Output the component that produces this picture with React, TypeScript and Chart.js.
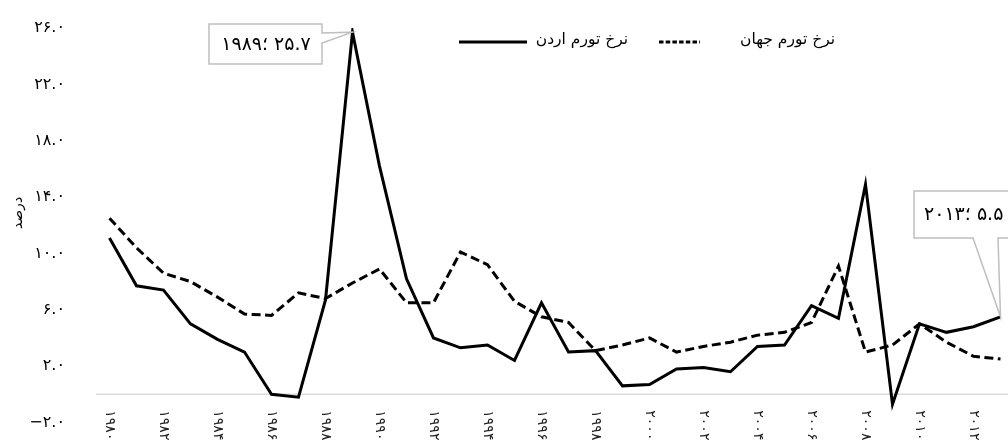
import React, { useEffect, useRef } from "react";
import { Chart, registerables } from "chart.js";

Chart.register(...registerables);

const years = [
  1980, 1981, 1982, 1983, 1984, 1985, 1986, 1987, 1988, 1989, 1990, 1991,
  1992, 1993, 1994, 1995, 1996, 1997, 1998, 1999, 2000, 2001, 2002, 2003,
  2004, 2005, 2006, 2007, 2008, 2009, 2010, 2011, 2012, 2013,
];
const jordan = [
  11.1, 7.7, 7.4, 5.0, 3.9, 3.0, 0.0, -0.2, 6.7, 25.7, 16.2, 8.2, 4.0, 3.3,
  3.5, 2.4, 6.5, 3.0, 3.1, 0.6, 0.7, 1.8, 1.9, 1.6, 3.4, 3.5, 6.3, 5.4, 14.9,
  -0.7, 5.0, 4.4, 4.8, 5.5,
];
const world = [
  12.5, 10.4, 8.6, 8.0, 6.9, 5.7, 5.6, 7.2, 6.8, 7.9, 8.9, 6.5, 6.5, 10.1,
  9.2, 6.6, 5.5, 5.1, 3.1, 3.5, 4.0, 3.0, 3.4, 3.7, 4.2, 4.4, 5.1, 9.1, 3.0,
  3.5, 5.0, 3.7, 2.7, 2.5,
];
const seriesNames = ["نرخ تورم اردن", "نرخ تورم جهان"];
const yTitle = "درصد";
const yMin = -2;
const yMax = 26;
const yStep = 4;

const FA = "۰۱۲۳۴۵۶۷۸۹";
const toFa = (s: string) => s.replace(/[0-9]/g, (d) => FA[+d]);
const FONT = "'DejaVu Sans', sans-serif";

function drawPieces(ctx: any, pieces: string[], x: number, y: number, align: string) {
  ctx.direction = "ltr";
  ctx.textAlign = "left";
  const widths = pieces.map((p) => ctx.measureText(p).width);
  const total = widths.reduce((a, b) => a + b, 0);
  let cx = align === "center" ? x - total / 2 : x;
  pieces.forEach((p, i) => {
    ctx.fillText(p, cx, y);
    cx += widths[i];
  });
}

const overlay = {
  id: "overlay",
  beforeDatasetsDraw(chart: any) {
    const { ctx, chartArea } = chart;
    const ys = chart.scales.y;
    const y0 = ys.getPixelForValue(0);
    ctx.save();
    ctx.strokeStyle = "#d9d9d9";
    ctx.lineWidth = 1.5;
    ctx.beginPath();
    ctx.moveTo(chartArea.left, y0);
    ctx.lineTo(chartArea.right, y0);
    ctx.stroke();
    ctx.restore();
  },
  afterDraw(chart: any) {
    const { ctx } = chart;
    const xs = chart.scales.x;
    const ys = chart.scales.y;
    const y0 = ys.getPixelForValue(0);
    ctx.save();
    // x labels rotated clockwise
    ctx.fillStyle = "#222";
    ctx.font = `14px ${FONT}`;
    ctx.direction = "ltr";
    ctx.textAlign = "left";
    ctx.textBaseline = "middle";
    years.forEach((yr, i) => {
      if (i % 2 !== 0) return;
      const x = xs.getPixelForValue(i);
      ctx.save();
      ctx.translate(x, y0 + 16);
      ctx.rotate(Math.PI / 2);
      ctx.fillText(toFa(String(yr)), 0, 0);
      ctx.restore();
    });

    // y title
    ctx.save();
    ctx.fillStyle = "#000";
    ctx.font = `14px ${FONT}`;
    ctx.direction = "rtl";
    ctx.textAlign = "center";
    ctx.textBaseline = "middle";
    ctx.translate(18, 213);
    ctx.rotate(-Math.PI / 2);
    ctx.fillText(yTitle, 0, 0);
    ctx.restore();

    // legend
    ctx.strokeStyle = "#000";
    ctx.lineWidth = 3;
    ctx.setLineDash([]);
    ctx.beginPath();
    ctx.moveTo(459, 42);
    ctx.lineTo(527, 42);
    ctx.stroke();
    ctx.setLineDash([4.5, 2.2]);
    ctx.beginPath();
    ctx.moveTo(659, 42);
    ctx.lineTo(700, 42);
    ctx.stroke();
    ctx.setLineDash([]);
    ctx.fillStyle = "#000";
    ctx.font = `15.5px ${FONT}`;
    ctx.direction = "rtl";
    ctx.textAlign = "right";
    ctx.textBaseline = "middle";
    ctx.fillText(seriesNames[0], 628, 40);
    ctx.fillText(seriesNames[1], 835, 40);

    // callouts
    const peakIdx = jordan.indexOf(Math.max(...jordan));
    const lastIdx = jordan.length - 1;
    const t1x = xs.getPixelForValue(peakIdx);
    const t1y = ys.getPixelForValue(jordan[peakIdx]);
    const t2x = xs.getPixelForValue(lastIdx);
    const t2y = ys.getPixelForValue(jordan[lastIdx]);
    ctx.strokeStyle = "#bfbfbf";
    ctx.lineWidth = 1.5;
    ctx.fillStyle = "#fff";
    ctx.beginPath();
    ctx.moveTo(209, 24);
    ctx.lineTo(322, 24);
    ctx.lineTo(322, 33);
    ctx.lineTo(t1x, t1y);
    ctx.lineTo(322, 43);
    ctx.lineTo(322, 64);
    ctx.lineTo(209, 64);
    ctx.closePath();
    ctx.fill();
    ctx.stroke();

    ctx.beginPath();
    ctx.moveTo(914, 191);
    ctx.lineTo(1045, 191);
    ctx.lineTo(1045, 238);
    ctx.lineTo(998, 238);
    ctx.lineTo(t2x, t2y);
    ctx.lineTo(973, 238);
    ctx.lineTo(914, 238);
    ctx.closePath();
    ctx.fill();
    ctx.stroke();

    ctx.fillStyle = "#000";
    ctx.font = `19px ${FONT}`;
    ctx.textBaseline = "middle";
    drawPieces(
      ctx,
      [toFa(String(years[peakIdx])), "؛ ", toFa(jordan[peakIdx].toFixed(1))],
      266,
      45,
      "center"
    );
    drawPieces(
      ctx,
      [toFa(String(years[lastIdx])), "؛ ", toFa(jordan[lastIdx].toFixed(1))],
      924,
      215,
      "left"
    );
    ctx.restore();
  },
};

export default function App() {
  const ref = useRef<HTMLCanvasElement | null>(null);
  useEffect(() => {
    if (!ref.current) return;
    Chart.defaults.font.family = FONT;
    const chart = new Chart(ref.current, {
      type: "line",
      data: {
        labels: years.map(String),
        datasets: [
          {
            label: seriesNames[0],
            data: jordan,
            borderColor: "#000",
            borderWidth: 3,
            pointRadius: 0,
            tension: 0,
            fill: false,
          },
          {
            label: seriesNames[1],
            data: world,
            borderColor: "#000",
            borderWidth: 3,
            borderDash: [9, 4.5],
            pointRadius: 0,
            tension: 0,
            fill: false,
          },
        ],
      },
      options: {
        animation: false,
        responsive: true,
        maintainAspectRatio: false,
        layout: { padding: { top: 28, bottom: 19.5, left: 0, right: 16 } },
        plugins: {
          legend: { display: false },
          tooltip: { enabled: false },
          title: { display: false },
        },
        scales: {
          x: {
            type: "category",
            offset: true,
            display: false,
          },
          y: {
            min: yMin,
            max: yMax,
            afterFit: (s: any) => {
              s.width = 96;
              s.paddingTop = 0;
              s.paddingBottom = 0;
            },
            grid: { display: false, drawTicks: false },
            border: { display: false },
            ticks: {
              stepSize: yStep,
              padding: 31,
              color: "#000",
              font: { size: 16, family: FONT },
              callback: (v: any) => {
                const n = Number(v);
                const s = toFa(Math.abs(n).toFixed(1));
                return n < 0 ? "−" + s : s;
              },
            },
          },
        },
      },
      plugins: [overlay],
    });
    return () => chart.destroy();
  }, []);
  return (
    <div
      style={{
        position: "fixed",
        left: 0,
        top: 0,
        width: 1030,
        height: 442,
        background: "#fff",
      }}
    >
      <canvas ref={ref} />
    </div>
  );
}
